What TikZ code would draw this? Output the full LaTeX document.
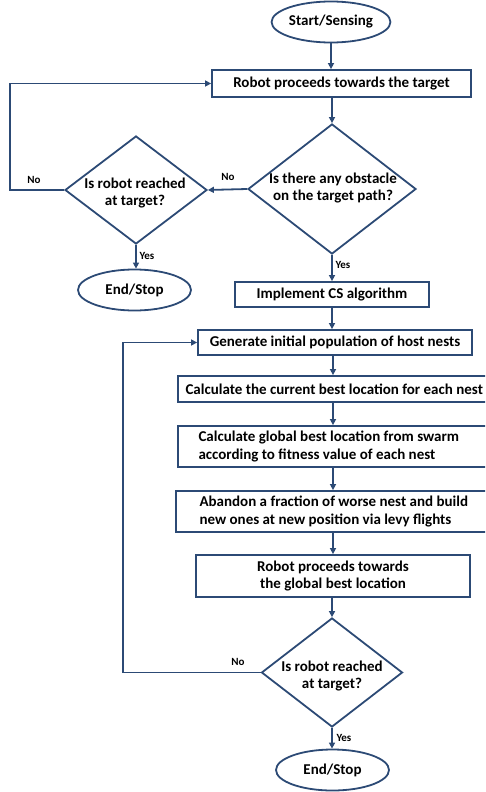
\documentclass[tikz,border=0pt]{standalone}
\usepackage{fontspec}
\setmainfont{Carlito}
\usetikzlibrary{shapes.geometric,arrows.meta}
\definecolor{navy}{HTML}{2C4A75}
\tikzset{
  x=1pt, y=-1pt,
  every node/.style={font=\bfseries\fontsize{15}{17.5}\selectfont, text=black},
  line/.style={draw=navy, line width=1.8pt},
  stepbox/.style={rectangle, line, inner sep=0pt, align=center},
  terminal/.style={ellipse, line, inner sep=0pt, minimum width=113pt, minimum height=41pt},
  decision/.style={diamond, line, inner sep=0pt},
  question/.style={align=center, inner sep=0pt},
  flow/.style={draw=navy, line width=1.8pt, -{Triangle[length=6pt,width=6pt]}},
  tag/.style={font=\bfseries\fontsize{11}{12}\selectfont}
}
\begin{document}
\begin{tikzpicture}
\useasboundingbox (0,0) rectangle (485,792);
\clip (0,0) rectangle (485,792);

% upper part: sensing and obstacle check
\node[terminal] (start) at (331,22) {Start/Sensing};
\node[stepbox, minimum width=259pt, minimum height=27pt] (proceed) at (341.5,83.5) {Robot proceeds towards the target};
\node[decision, minimum width=168pt, minimum height=130pt] (obst) at (332,189) {};
\node[question] at (333,188) {Is there any obstacle\\on the target path?};
\node[decision, minimum width=142pt, minimum height=108pt] (reach1) at (136,190) {};
\node[question] at (135,193) {Is robot reached\\at target?};
\node[terminal] (end1) at (134.5,290) {End/Stop};
\node[stepbox, minimum width=194pt, minimum height=25pt] (cs) at (332,294.5) {Implement CS algorithm};

% cuckoo search steps
\node[stepbox, minimum width=274pt, minimum height=25pt] (init) at (335,342.5) {Generate initial population of host nests};
\node[stepbox, minimum width=312pt, minimum height=26pt] (curbest) at (334,389) {};
\node[anchor=west] at (182,389) {Calculate the current best location for each nest};
\node[stepbox, minimum width=312pt, minimum height=41pt] (globest) at (334,446.5) {};
\node[anchor=west, align=left] at (195,446.5) {Calculate global best location from swarm\\according to fitness value of each nest};
\node[stepbox, minimum width=314pt, minimum height=41pt] (abandon) at (333,511.5) {};
\node[anchor=west, align=left] at (196,511.5) {Abandon a fraction of worse nest and build\\new ones at new position via levy flights};
\node[stepbox, minimum width=274pt, minimum height=42pt] (move) at (333,576) {Robot proceeds towards\\the global best location};
\node[decision, minimum width=141pt, minimum height=109pt] (reach2) at (332,672.5) {};
\node[question] at (332,676) {Is robot reached\\at target?};
\node[terminal] (end2) at (332.5,770) {End/Stop};

% loop-back corners
\coordinate (c1) at (10,190);
\coordinate (c2) at (10,83.5);
\coordinate (c3) at (123,672.5);
\coordinate (c4) at (123,342.5);
\coordinate (spine) at (333,0);

% connectors
\draw[flow] (start) -- (start |- proceed.north);
\draw[flow] (proceed.south -| obst) -- (obst.north);
\draw[flow] (obst.west) -- (reach1.east);
\draw[flow] (obst.south) -- (cs.north -| obst);
\draw[flow] (reach1.south) -- (end1.north -| reach1);
\draw[flow] (reach1.west) -- (c1) -- (c2) -- (proceed.west);
\draw[flow] (cs.south -| obst) -- (init.north -| obst);
\draw[flow] (init.south -| spine) -- (curbest.north -| spine);
\draw[flow] (curbest.south -| spine) -- (globest.north -| spine);
\draw[flow] (globest.south -| spine) -- (abandon.north -| spine);
\draw[flow] (abandon.south -| spine) -- (move.north -| spine);
\draw[flow] (move.south -| reach2) -- (reach2.north);
\draw[flow] (reach2.south) -- (end2.north -| reach2);
\draw[flow] (reach2.west) -- (c3) -- (c4) -- (init.west);

% branch labels
\node[tag] at (228,177) {No};
\node[tag] at (34,180) {No};
\node[tag] at (147,256) {Yes};
\node[tag] at (343,265) {Yes};
\node[tag] at (238,662) {No};
\node[tag] at (344,738) {Yes};
\end{tikzpicture}
\end{document}
